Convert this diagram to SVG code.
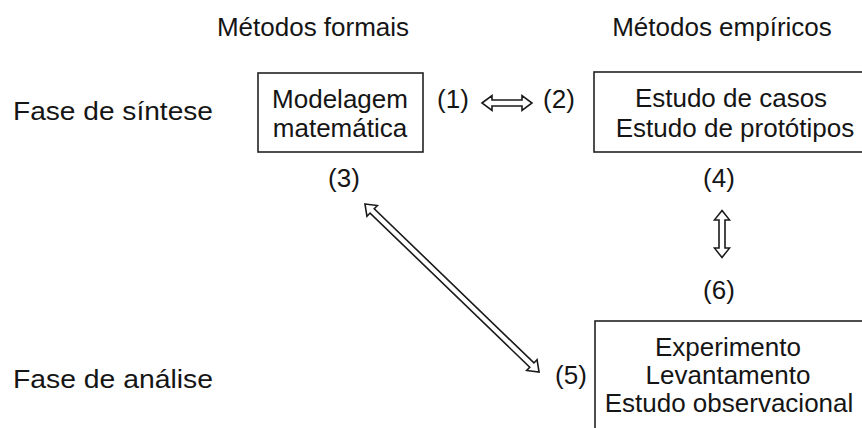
<svg xmlns="http://www.w3.org/2000/svg" width="862" height="428" viewBox="0 0 862 428">
<style>
text{font-family:"Liberation Sans",Arial,sans-serif;font-size:26px;fill:#151515}
.c{text-anchor:middle}
.box{fill:#fff;stroke:#222;stroke-width:1.6}
.arr{fill:#fff;stroke:#1a1a1a;stroke-width:1.6;stroke-linejoin:miter}
</style>
<defs>
<polygon id="dbl" points="-25,0 -15,-7.5 -15,-3 15,-3 15,-7.5 25,0 15,7.5 15,3 -15,3 -15,7.5"/>
</defs>
<g id="headers">
<text x="313" y="36" class="c">Métodos formais</text>
<text x="722" y="36" class="c">Métodos empíricos</text>
<text x="13" y="120" textLength="200" lengthAdjust="spacingAndGlyphs">Fase de síntese</text>
<text x="13" y="388" textLength="200" lengthAdjust="spacingAndGlyphs">Fase de análise</text>
</g>
<g id="node-modelagem">
<rect class="box" x="258" y="73" width="165" height="79"/>
<text x="340" y="108" class="c">Modelagem</text>
<text x="340" y="137" class="c">matemática</text>
</g>
<g id="node-estudos">
<rect class="box" x="594" y="72" width="272" height="80"/>
<text x="731" y="107" class="c">Estudo de casos</text>
<text x="735" y="137" class="c">Estudo de protótipos</text>
</g>
<g id="node-experimento">
<rect class="box" x="595" y="321" width="272" height="112"/>
<text x="728" y="356" class="c">Experimento</text>
<text x="728" y="384" class="c">Levantamento</text>
<text x="729" y="412" class="c">Estudo observacional</text>
</g>
<g id="labels">
<text x="453" y="108" class="c">(1)</text>
<text x="559" y="108" class="c">(2)</text>
<text x="344" y="187" class="c">(3)</text>
<text x="719" y="187" class="c">(4)</text>
<text x="719" y="299" class="c">(6)</text>
<text x="571" y="384" class="c">(5)</text>
</g>
<g id="connectors">
<use href="#dbl" class="arr" transform="translate(507,103)"/>
<use href="#dbl" class="arr" transform="translate(722,234) rotate(90) scale(0.94,1)"/>
<polygon class="arr" points="-121,0 -111,-7.5 -111,-3 111,-3 111,-7.5 121,0 111,7.5 111,3 -111,3 -111,7.5" transform="translate(452,288) rotate(44)"/>
</g>
</svg>
